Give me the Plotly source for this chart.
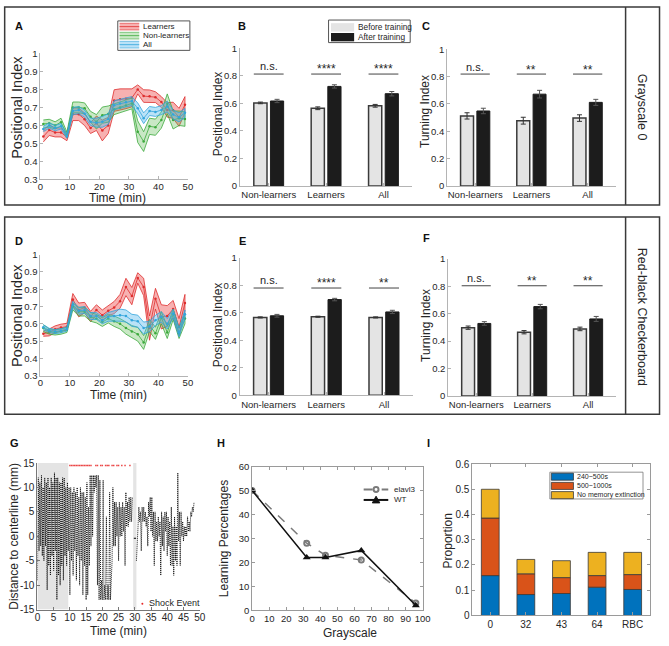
import plotly.graph_objects as go

W, H = 669, 646
FONT = "Liberation Sans, Arial, Helvetica, sans-serif"
TXT = "#262626"

# ---------------- data ----------------
TIME_MIN = [1, 3, 5, 7, 9, 11, 13, 15, 17, 19, 21, 23, 25, 27, 29, 31, 33, 35, 37, 39, 41, 43, 45, 47, 49]

# Panel A (Grayscale 0) - positional index over time, mean and SEM
A_LEARN_MEAN = [0.538, 0.574, 0.561, 0.561, 0.535, 0.662, 0.662, 0.634, 0.585, 0.612, 0.572, 0.600, 0.738, 0.745, 0.748, 0.753,
                0.800, 0.763, 0.762, 0.757, 0.730, 0.686, 0.684, 0.645, 0.715]
A_LEARN_SEM = [0.030, 0.030, 0.025, 0.025, 0.020, 0.035, 0.035, 0.035, 0.030, 0.040, 0.058, 0.045, 0.060, 0.058, 0.055, 0.050,
               0.025, 0.035, 0.035, 0.030, 0.030, 0.040, 0.045, 0.050, 0.045]
A_NONL_MEAN = [0.608, 0.612, 0.600, 0.618, 0.548, 0.700, 0.700, 0.695, 0.648, 0.620, 0.657, 0.663, 0.690, 0.700, 0.710, 0.722,
               0.565, 0.510, 0.595, 0.590, 0.630, 0.720, 0.630, 0.640, 0.635]
A_NONL_SEM = [0.022, 0.022, 0.020, 0.022, 0.015, 0.030, 0.030, 0.030, 0.030, 0.040, 0.045, 0.045, 0.030, 0.030, 0.030, 0.030,
              0.060, 0.055, 0.045, 0.045, 0.045, 0.055, 0.050, 0.040, 0.040]
A_ALL_MEAN = [0.580, 0.600, 0.585, 0.595, 0.540, 0.680, 0.685, 0.665, 0.620, 0.615, 0.620, 0.635, 0.712, 0.722, 0.728, 0.735,
              0.695, 0.640, 0.680, 0.675, 0.685, 0.705, 0.660, 0.645, 0.670]
A_ALL_SEM = [0.015, 0.015, 0.015, 0.015, 0.012, 0.020, 0.020, 0.020, 0.020, 0.025, 0.030, 0.030, 0.025, 0.025, 0.025, 0.025,
             0.030, 0.030, 0.025, 0.025, 0.025, 0.030, 0.025, 0.025, 0.025]

# Panel D (Red-black checkerboard)
D_LEARN_MEAN = [0.543, 0.550, 0.568, 0.578, 0.583, 0.740, 0.680, 0.694, 0.642, 0.680, 0.650, 0.675, 0.694, 0.730, 0.813, 0.760,
                0.865, 0.813, 0.575, 0.745, 0.640, 0.645, 0.685, 0.580, 0.720]
D_LEARN_SEM = [0.015, 0.020, 0.020, 0.020, 0.020, 0.035, 0.040, 0.030, 0.030, 0.030, 0.030, 0.030, 0.035, 0.040, 0.050, 0.050,
               0.030, 0.050, 0.070, 0.060, 0.070, 0.060, 0.050, 0.050, 0.050]
D_NONL_MEAN = [0.575, 0.555, 0.550, 0.555, 0.565, 0.700, 0.670, 0.670, 0.640, 0.630, 0.610, 0.630, 0.615, 0.600, 0.575, 0.555,
               0.540, 0.492, 0.590, 0.545, 0.635, 0.550, 0.655, 0.545, 0.630]
D_NONL_SEM = [0.020, 0.015, 0.015, 0.015, 0.015, 0.020, 0.025, 0.025, 0.025, 0.025, 0.025, 0.025, 0.030, 0.030, 0.035, 0.035,
              0.040, 0.040, 0.035, 0.035, 0.035, 0.035, 0.030, 0.030, 0.030]
D_ALL_MEAN = [0.580, 0.562, 0.555, 0.560, 0.570, 0.710, 0.675, 0.680, 0.645, 0.645, 0.620, 0.640, 0.645, 0.650, 0.645, 0.620,
              0.615, 0.575, 0.585, 0.620, 0.640, 0.600, 0.660, 0.550, 0.655]
D_ALL_SEM = [0.015, 0.012, 0.012, 0.012, 0.012, 0.020, 0.020, 0.020, 0.020, 0.020, 0.020, 0.025, 0.030, 0.035, 0.035, 0.035,
             0.035, 0.035, 0.030, 0.030, 0.030, 0.030, 0.025, 0.025, 0.025]

# Bar panels
GROUPS = ["Non-learners", "Learners", "All"]
GROUP_POS = [1, 2, 3]
B_BEFORE = [0.604, 0.565, 0.583]
B_BEFORE_ERR = [0.006, 0.010, 0.010]
B_AFTER = [0.618, 0.724, 0.671]
B_AFTER_ERR = [0.012, 0.012, 0.016]
B_SIG = ["n.s.", "****", "****"]
C_BEFORE = [0.512, 0.477, 0.496]
C_BEFORE_ERR = [0.023, 0.025, 0.024]
C_AFTER = [0.548, 0.671, 0.611]
C_AFTER_ERR = [0.020, 0.028, 0.022]
C_SIG = ["n.s.", "**", "**"]
E_BEFORE = [0.567, 0.572, 0.567]
E_BEFORE_ERR = [0.004, 0.004, 0.004]
E_AFTER = [0.579, 0.697, 0.607]
E_AFTER_ERR = [0.010, 0.009, 0.012]
E_SIG = ["n.s.", "****", "**"]
F_BEFORE = [0.498, 0.465, 0.489]
F_BEFORE_ERR = [0.012, 0.012, 0.013]
F_AFTER = [0.529, 0.652, 0.562]
F_AFTER_ERR = [0.013, 0.016, 0.018]
F_SIG = ["n.s.", "**", "**"]
SIG_LINE = {"B": 0.814, "C": 0.818, "E": 0.781, "F": 0.804}

# Panel G - example trajectory: time (min) and vertical extent (mm) of positions
G_T = [0, 0.5, 1, 1.5, 2, 2.5, 3, 3.5, 4, 4.5, 5, 5.5, 6, 6.5, 7, 7.5, 8, 8.5, 9, 9.5,
       10, 10.5, 11, 11.5, 12, 12.5, 13, 13.5, 14, 14.5, 15, 15.5, 16, 16.5, 17, 17.5, 18, 18.5, 19, 19.5,
       20, 20.5, 21, 21.5, 22, 22.5, 23, 23.5, 24, 24.5, 25, 25.5, 26, 26.5, 27, 27.5, 28, 28.5, 29,
       30.5, 31, 31.5, 32, 32.5, 33, 33.5, 34, 34.5, 35, 35.5, 36, 36.5, 37, 37.5, 38, 38.5, 39, 39.5,
       40, 40.5, 41, 41.5, 42, 42.5, 43, 43.5, 44, 44.5, 45, 45.5, 46, 46.5, 47, 47.5, 48]
G_LO = [-9, -3, -2, -4, -5, -2, -11, -6, -8, -4, -7, -3, -13, -8, -10, -6, -9, -4, -6, -3,
        -12, -5, -8, -3, -9, -4, -10, -5, -12, -6, -13, -12, -6, -2, 0, 9, 10, -10, -13, -13,
        -13, -13, -13, -13, -13, -13, -5, -2, -2, 0, -5, 0, 0, 1, -6, 2, 2, 3, 3,
        -5, 2, 3, -3, 3, 3, 2, -2, 4, 1, 0, -6, -1, -1, 0, -8, -2, -3, 1,
        -4, -2, -6, -6, -8, -5, -6, -1, -6, 0, -1, 0, 0, 1, 1, 4, 5]
G_HI = [12, 11, 12.5, 10, 12, 11, 12, 10, 12, 11, 13, 12, 12, 11, 11, 12, 12, 10, 11, 10,
        10, 9, 10, 9, 10, 8, 10, 9, 9, 8, 11, 6, 12.5, 12.5, 12.5, 12.5, 12.5, 12.5, 11.5, -9,
        11.5, -10, 4, -10, 9, -10, 10, 7, 7, 6, 7, 6, 7, 6, 9, 7, 8, 8, 8,
        1, 6, 5, 6, 6, 5, 4, 7, 8, 8, 5, 5, 3, 4, 3, 5, 4, 5, 5,
        4, 3, 6, 2, 4, 2, 13, 5, 5, 3, 2, 2, 4, 3, 5, 6, 7]
G_PAUSE_T = [29.7, 30.4]
G_PAUSE_Y = [-0.4, -0.4]
SHOCK_T = [10, 10.5, 11, 11.5, 12, 12.5, 13, 13.5, 14, 14.5, 15, 15.5, 16, 16.5,
           18, 18.5, 19.5, 20, 21, 21.5, 22, 23, 23.5, 24.5, 25, 26, 27, 28.5]
SHOCK_Y = 14.5
G_GRAY_X0 = [0, 29.5]
G_GRAY_X1 = [9.5, 30.5]

# Panel H
H_GRAYSCALE = [0, 32, 43, 64, 96]
H_ELAVL3 = [50, 28, 23, 21, 3]
H_WT = [50, 22, 22, 25, 2]

# Panel I
I_CATS = ["0", "32", "43", "64", "RBC"]
I_240_500 = [0.158, 0.083, 0.087, 0.112, 0.103]
I_500_1000 = [0.228, 0.082, 0.063, 0.046, 0.059]
I_NO_EXT = [0.114, 0.057, 0.067, 0.092, 0.088]

# tick arrays
TIME_TICKS = [0, 10, 20, 30, 40, 50]
PI_TICKS = [0.3, 0.4, 0.5, 0.6, 0.7, 0.8, 0.9, 1.0]
PI_TICK_TEXT = ["0.3", "0.4", "0.5", "0.6", "0.7", "0.8", "0.9", "1"]
BAR_TICKS = [0, 0.2, 0.4, 0.6, 0.8, 1.0]
BAR_TICK_TEXT = ["0", "0.2", "0.4", "0.6", "0.8", "1"]
G_X_TICKS = [0, 5, 10, 15, 20, 25, 30, 35, 40, 45, 50]
G_Y_TICKS = [-15, -10, -5, 0, 5, 10, 15]
H_X_TICKS = [0, 10, 20, 30, 40, 50, 60, 70, 80, 90, 100]
H_Y_TICKS = [0, 10, 20, 30, 40, 50, 60]
I_Y_TICKS = [0, 0.1, 0.2, 0.3, 0.4, 0.5, 0.6]
I_Y_TICK_TEXT = ["0", "0.1", "0.2", "0.3", "0.4", "0.5", "0.6"]

# colours
RED_LINE, RED_FILL = "rgb(222,45,45)", "rgba(235,70,70,0.42)"
GRN_LINE, GRN_FILL = "rgb(60,170,60)", "rgba(90,185,80,0.33)"
BLU_LINE, BLU_FILL = "rgb(50,165,220)", "rgba(90,185,235,0.42)"
LIGHT_BAR, DARK_BAR = "#e4e4e4", "#1c1c1c"
I_COLORS = ["#0072BD", "#D95319", "#EDB120"]

# ---------------- helpers ----------------
def px(x):
    return x / W


def py(y):
    return 1 - y / H


def xname(n):
    return "xaxis" if n == 1 else f"xaxis{n}"


def yname(n):
    return "yaxis" if n == 1 else f"yaxis{n}"


def xr(n):
    return "x" if n == 1 else f"x{n}"


def yr(n):
    return "y" if n == 1 else f"y{n}"


fig = go.Figure()
layout = {}
annotations = []
shapes = []


def text(x, y, s, size, color=TXT, bold=False, angle=0, xanchor="center", yanchor="middle", yshift=0):
    annotations.append(dict(x=px(x), y=py(y), xref="paper", yref="paper",
                            text=f"<b>{s}</b>" if bold else s, showarrow=False,
                            font=dict(family=FONT, size=size, color=color), textangle=angle,
                            xanchor=xanchor, yanchor=yanchor, yshift=yshift))


def set_axes(n, xd, yd, xrange, yrange, xticks, yticks, xtext=None, ytext=None,
             tfs=10, linecolor="#b4b4b4", mirror=False, xtfs=None, xstandoff=0):
    common = dict(showline=True, linecolor=linecolor, linewidth=1, ticks="inside", ticklen=3,
                  tickcolor=linecolor, showgrid=False, zeroline=False, mirror=mirror,
                  tickfont=dict(family=FONT, size=tfs, color=TXT), fixedrange=True)
    layout[xname(n)] = dict(common, domain=[px(xd[0]), px(xd[1])], range=xrange, anchor=yr(n),
                            tickmode="array", tickvals=xticks,
                            ticktext=xtext if xtext else [str(v) for v in xticks],
                            tickfont=dict(family=FONT, size=xtfs or tfs, color=TXT),
                            ticklabelstandoff=xstandoff)
    layout[yname(n)] = dict(common, domain=[py(yd[1]), py(yd[0])], range=yrange, anchor=xr(n),
                            tickmode="array", tickvals=yticks,
                            ticktext=ytext if ytext else [str(v) for v in yticks])


# ---------------- panels A & D ----------------
def band_panel(n, series):
    for mean, sem, lc, fc, name in series:
        up = [m + s for m, s in zip(mean, sem)]
        lo = [m - s for m, s in zip(mean, sem)]
        fig.add_trace(go.Scatter(x=TIME_MIN + TIME_MIN[::-1], y=up + lo[::-1], fill="toself",
                                 fillcolor=fc, line=dict(color=lc, width=0.8), mode="lines",
                                 name=name, showlegend=False, hoverinfo="skip",
                                 xaxis=xr(n), yaxis=yr(n)))
        fig.add_trace(go.Scatter(x=TIME_MIN, y=mean, mode="lines+markers",
                                 line=dict(color=lc, width=0.8), marker=dict(color=lc, size=2.5),
                                 showlegend=False, xaxis=xr(n), yaxis=yr(n)))


band_panel(1, [(A_LEARN_MEAN, A_LEARN_SEM, RED_LINE, RED_FILL, "Learners"),
               (A_NONL_MEAN, A_NONL_SEM, GRN_LINE, GRN_FILL, "Non-learners"),
               (A_ALL_MEAN, A_ALL_SEM, BLU_LINE, BLU_FILL, "All")])
band_panel(4, [(D_LEARN_MEAN, D_LEARN_SEM, RED_LINE, RED_FILL, "Learners"),
               (D_NONL_MEAN, D_NONL_SEM, GRN_LINE, GRN_FILL, "Non-learners"),
               (D_ALL_MEAN, D_ALL_SEM, BLU_LINE, BLU_FILL, "All")])
set_axes(1, (38, 188), (48.3, 176.7), [0, 50], [0.3, 1.0], TIME_TICKS, PI_TICKS, ytext=PI_TICK_TEXT, tfs=9.5,
         xstandoff=-2)
set_axes(4, (38, 188), (253.3, 376.7), [0, 50], [0.3, 1.0], TIME_TICKS, PI_TICKS, ytext=PI_TICK_TEXT, tfs=9.5,
         xstandoff=-2)

# ---------------- bar panels ----------------
OFF, BW = 0.145, 0.23


def bar_panel(n, before, berr, after, aerr, sig, sigline, xd, yd):
    fig.add_trace(go.Bar(x=[g - OFF for g in GROUP_POS], y=before, width=BW,
                         marker=dict(color=LIGHT_BAR, line=dict(color="#3a3a3a", width=1.5)),
                         error_y=dict(type="data", array=berr, color="#333", thickness=1, width=2.5),
                         showlegend=False, xaxis=xr(n), yaxis=yr(n)))
    fig.add_trace(go.Bar(x=[g + OFF for g in GROUP_POS], y=after, width=BW,
                         marker=dict(color=DARK_BAR, line=dict(color="#1c1c1c", width=1)),
                         error_y=dict(type="data", array=aerr, color="#555", thickness=1, width=2.5),
                         showlegend=False, xaxis=xr(n), yaxis=yr(n)))
    for g, s in zip(GROUP_POS, sig):
        shapes.append(dict(type="line", xref=xr(n), yref=yr(n), x0=g - 0.26, x1=g + 0.26,
                           y0=sigline, y1=sigline, line=dict(color="#444", width=1)))
        annotations.append(dict(x=g, y=sigline + 0.055, xref=xr(n), yref=yr(n), text=s, showarrow=False,
                                font=dict(family=FONT, size=11 if s == "n.s." else 12, color=TXT),
                                yshift=0 if s == "n.s." else -3))
    set_axes(n, xd, yd, [0.5, 3.5], [0, 1.0], GROUP_POS, BAR_TICKS, xtext=GROUPS, ytext=BAR_TICK_TEXT,
             tfs=9.5)


bar_panel(2, B_BEFORE, B_BEFORE_ERR, B_AFTER, B_AFTER_ERR, B_SIG, SIG_LINE["B"], (241, 416), (43.3, 183.3))
bar_panel(3, C_BEFORE, C_BEFORE_ERR, C_AFTER, C_AFTER_ERR, C_SIG, SIG_LINE["C"], (451.5, 623), (44, 183.3))
bar_panel(5, E_BEFORE, E_BEFORE_ERR, E_AFTER, E_AFTER_ERR, E_SIG, SIG_LINE["E"], (240.7, 416.7), (256.7, 396.7))
bar_panel(6, F_BEFORE, F_BEFORE_ERR, F_AFTER, F_AFTER_ERR, F_SIG, SIG_LINE["F"], (452.7, 623.3), (257.7, 397.3))

# ---------------- panel G ----------------
for x0, x1 in zip(G_GRAY_X0, G_GRAY_X1):
    shapes.append(dict(type="rect", xref="x7", yref="y7", x0=x0, x1=x1, y0=-15, y1=15,
                       fillcolor="#e4e4e4", line=dict(width=0), layer="below"))
# zig-zag trajectory through the low / high extents of each half-minute window
path_x, path_y = [], []
prev_t = None
for t, lo, hi in zip(G_T, G_LO, G_HI):
    if prev_t is not None and t - prev_t > 1:
        path_x.append(None)
        path_y.append(None)
    path_x += [t, t + 0.25]
    path_y += [lo, hi]
    prev_t = t
fig.add_trace(go.Scatter(x=path_x, y=path_y, mode="lines",
                         line=dict(color="black", width=0.9, dash="1px,1px"),
                         showlegend=False, xaxis="x7", yaxis="y7"))
fig.add_trace(go.Scatter(x=G_PAUSE_T, y=G_PAUSE_Y, mode="lines", line=dict(color="black", width=1),
                         showlegend=False, xaxis="x7", yaxis="y7"))
fig.add_trace(go.Scatter(x=SHOCK_T, y=[SHOCK_Y] * len(SHOCK_T), mode="markers",
                         marker=dict(color="rgb(235,70,70)", size=1.5, symbol="square"),
                         showlegend=False, xaxis="x7", yaxis="y7"))
set_axes(7, (35, 200), (465.7, 615), [0, 50], [-15, 15], G_X_TICKS, G_Y_TICKS, tfs=10, linecolor="#777",
         xstandoff=-2)

# ---------------- panel H ----------------
fig.add_trace(go.Scatter(x=H_GRAYSCALE, y=H_ELAVL3, mode="lines+markers",
                         line=dict(color="#7a7a7a", width=1.5, dash="dash"),
                         marker=dict(symbol="circle-open", size=5, color="#7a7a7a", line=dict(width=2)),
                         showlegend=False, xaxis="x8", yaxis="y8"))
fig.add_trace(go.Scatter(x=H_GRAYSCALE, y=H_WT, mode="lines+markers",
                         line=dict(color="#111", width=1.5),
                         marker=dict(symbol="triangle-up", size=7, color="#111"),
                         showlegend=False, xaxis="x8", yaxis="y8"))
set_axes(8, (253.3, 426.7), (469.3, 615.7), [0, 100], [0, 60], H_X_TICKS, H_Y_TICKS, tfs=9.5,
         linecolor="#9a9a9a", mirror="ticks", xstandoff=-1)

# ---------------- panel I ----------------
base = [0] * len(I_CATS)
for vals, col in zip([I_240_500, I_500_1000, I_NO_EXT], I_COLORS):
    fig.add_trace(go.Bar(x=I_CATS, y=vals, base=base, width=0.5,
                         marker=dict(color=col, line=dict(color="#3a3a3a", width=0.8)),
                         showlegend=False, xaxis="x9", yaxis="y9"))
    base = [b + v for b, v in zip(base, vals)]
set_axes(9, (477.3, 658.3), (466.7, 621), [-0.5, 4.5], [0, 0.6], I_CATS, I_Y_TICKS,
         xtext=I_CATS, ytext=I_Y_TICK_TEXT, tfs=10, linecolor="#9a9a9a", mirror="ticks")
layout["xaxis9"]["type"] = "category"

# ---------------- axis titles ----------------
text(14, 103, "Positional Index", 14.5, angle=-90)
text(116, 195.5, "Time (min)", 12)
text(14, 315, "Positional Index", 14.5, angle=-90)
text(117, 396, "Time (min)", 12)
text(219, 110, "Positional Index", 12, angle=-90)
text(429, 107, "Turning Index", 12, angle=-90)
text(219, 325, "Positional Index", 12, angle=-90)
text(430, 325, "Turning Index", 12, angle=-90)
text(11, 540, "Distance to centerline (mm)", 12, angle=-90)
text(117, 637, "Time (min)", 12)
text(225, 543, "Learning Percentages", 12, angle=-90)
text(353, 638.5, "Grayscale", 12)
text(452, 545, "Proportion", 12, angle=-90)

# panel letters
for lx, ly, s in [(16, 20, "A"), (243.5, 20, "B"), (430, 20.5, "C"), (16.7, 239, "D"), (243.5, 239, "E"),
                  (430.5, 236, "F"), (11.7, 445, "G"), (222, 445, "H"), (432.5, 445, "I")]:
    text(lx, ly, s, 11, color="#111", bold=True)

# row labels
text(650, 103, "Grayscale 0", 12.5, angle=90)
text(650, 317, "Red-black Checkerboard", 12.5, angle=90)

# frames
BOX = dict(color="#3a3a3a", width=1.5)
for y0, y1 in [(1, 202.7), (215, 416)]:
    shapes.append(dict(type="rect", xref="paper", yref="paper", x0=px(1.7), x1=px(667.5), y0=py(y1), y1=py(y0),
                       line=BOX))
    shapes.append(dict(type="line", xref="paper", yref="paper", x0=px(633), x1=px(633), y0=py(y1), y1=py(y0),
                       line=BOX))

# ---------------- manual legends ----------------
def rect(x0, y0, x1, y1, fill, line="#555", lw=1):
    shapes.append(dict(type="rect", xref="paper", yref="paper", x0=px(x0), x1=px(x1), y0=py(y1), y1=py(y0),
                       fillcolor=fill, line=dict(color=line, width=lw)))


def hline(x0, x1, y, color, width=1, dash="solid"):
    shapes.append(dict(type="line", xref="paper", yref="paper", x0=px(x0), x1=px(x1), y0=py(y), y1=py(y),
                       line=dict(color=color, width=width, dash=dash)))


# A legend
rect(116.7, 15.2, 190, 45.2, "white", "#555", 1)
for cy, lc, fc, name in [(21.0, RED_LINE, RED_FILL, "Learners"), (30.2, GRN_LINE, GRN_FILL, "Non-learners"),
                         (39.4, BLU_LINE, BLU_FILL, "All")]:
    rect(118.5, cy - 3.4, 138.5, cy + 3.4, fc, fc, 0)
    hline(118.5, 138.5, cy - 3.4, lc, 0.6)
    hline(118.5, 138.5, cy + 3.4, lc, 0.6)
    hline(118.5, 138.5, cy, lc, 0.8)
    text(140.5, cy, name, 8, xanchor="left")

# B legend
rect(331, 14.3, 414, 37.3, "white", "#555", 1)
rect(333.5, 17.5, 357, 26, LIGHT_BAR, LIGHT_BAR, 0)
rect(333.5, 27.5, 357, 36, DARK_BAR, DARK_BAR, 0)
text(359, 21.7, "Before training", 8.3, xanchor="left")
text(359, 31.8, "After training", 8.3, xanchor="left")

# G legend
shapes.append(dict(type="circle", xref="paper", yref="paper", x0=px(140.7), x1=px(142.7), y0=py(610), y1=py(608),
                   fillcolor="rgb(230,40,40)", line=dict(width=0)))
text(146, 608.5, "Shock Event", 9, xanchor="left")

# H legend
hline(366.7, 391.7, 492.7, "#7a7a7a", 2, "dash")
shapes.append(dict(type="circle", xref="paper", yref="paper", x0=px(376.8), x1=px(381.8), y0=py(495.2),
                   y1=py(490.2), fillcolor="white", line=dict(color="#7a7a7a", width=2)))
hline(366.7, 391.7, 503.3, "#111", 2)
shapes.append(dict(type="path", xref="paper", yref="paper",
                   path=f"M {px(375.5)},{py(506.3)} L {px(383.1)},{py(506.3)} L {px(379.3)},{py(499.5)} Z",
                   fillcolor="#111", line=dict(color="#111", width=1)))
text(395, 492.7, "elavl3", 8, xanchor="left")
text(395, 503.3, "WT", 8, xanchor="left")

# I legend
rect(556, 475, 650.7, 502.3, "white", "#777", 0.8)
for cy, col, name in [(479.6, I_COLORS[0], "240~500s"), (489.0, I_COLORS[1], "500~1000s"),
                      (498.4, I_COLORS[2], "No memory extinction")]:
    rect(557.5, cy - 3.6, 580, cy + 3.6, col, "#3a3a3a", 0.8)
    text(582, cy, name, 7, xanchor="left")

layout.update(dict(width=W, height=H, margin=dict(l=0, r=0, t=0, b=0), paper_bgcolor="white",
                   plot_bgcolor="rgba(0,0,0,0)", showlegend=False, barmode="overlay", hovermode=False,
                   annotations=annotations, shapes=shapes, font=dict(family=FONT, color=TXT)))
fig.update_layout(**layout)

PAGE_FIX = ("var d=document.documentElement,b=document.body;"
            "d.style.margin='0';d.style.padding='0';d.style.overflow='hidden';"
            "b.style.margin='0';b.style.padding='0';b.style.overflow='hidden';"
            "b.style.width='669px';b.style.height='646px';")
fig.write_html("out.html", config={"displayModeBar": False, "staticPlot": True}, post_script=PAGE_FIX)
